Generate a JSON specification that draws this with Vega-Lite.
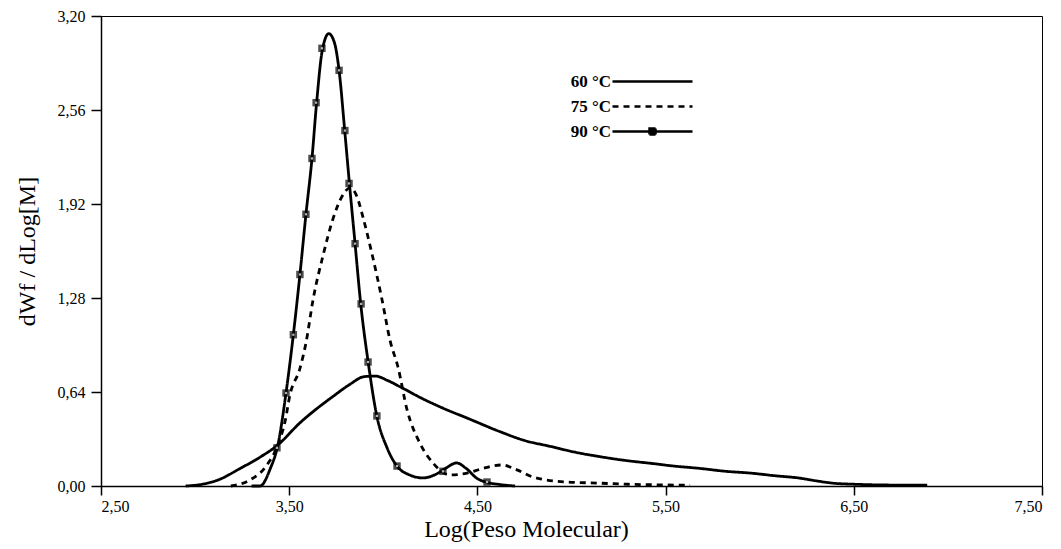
{
  "$schema": "https://vega.github.io/schema/vega-lite/v6.json",
  "width": 941,
  "height": 470,
  "autosize": {"type": "none"},
  "padding": {"left": 101, "top": 16, "right": 19, "bottom": 63},
  "background": "white",
  "config": {
    "view": {"stroke": "black", "strokeWidth": 1},
    "font": "Liberation Serif",
    "axis": {
      "grid": false,
      "domainColor": "black",
      "domainWidth": 1.5,
      "tickColor": "black",
      "tickWidth": 1.5,
      "labelColor": "black",
      "titleColor": "black",
      "labelFont": "Liberation Serif",
      "titleFont": "Liberation Serif",
      "labelFontSize": 16,
      "titleFontSize": 24,
      "titleFontWeight": "normal"
    }
  },
  "datasets": {
    "curves": [
      {"serie": "60 °C", "logM": 2.95, "dwf": 0.0},
      {"serie": "60 °C", "logM": 3.05, "dwf": 0.015},
      {"serie": "60 °C", "logM": 3.12, "dwf": 0.04},
      {"serie": "60 °C", "logM": 3.24, "dwf": 0.12},
      {"serie": "60 °C", "logM": 3.35, "dwf": 0.2},
      {"serie": "60 °C", "logM": 3.44, "dwf": 0.28},
      {"serie": "60 °C", "logM": 3.557, "dwf": 0.43},
      {"serie": "60 °C", "logM": 3.65, "dwf": 0.53},
      {"serie": "60 °C", "logM": 3.733, "dwf": 0.61},
      {"serie": "60 °C", "logM": 3.82, "dwf": 0.69},
      {"serie": "60 °C", "logM": 3.9, "dwf": 0.745},
      {"serie": "60 °C", "logM": 3.96, "dwf": 0.748},
      {"serie": "60 °C", "logM": 4.02, "dwf": 0.72},
      {"serie": "60 °C", "logM": 4.09, "dwf": 0.675},
      {"serie": "60 °C", "logM": 4.2, "dwf": 0.6},
      {"serie": "60 °C", "logM": 4.317, "dwf": 0.53},
      {"serie": "60 °C", "logM": 4.45, "dwf": 0.46},
      {"serie": "60 °C", "logM": 4.62, "dwf": 0.37},
      {"serie": "60 °C", "logM": 4.75, "dwf": 0.31},
      {"serie": "60 °C", "logM": 4.886, "dwf": 0.27},
      {"serie": "60 °C", "logM": 5.02, "dwf": 0.23},
      {"serie": "60 °C", "logM": 5.15, "dwf": 0.2},
      {"serie": "60 °C", "logM": 5.28, "dwf": 0.175},
      {"serie": "60 °C", "logM": 5.417, "dwf": 0.155},
      {"serie": "60 °C", "logM": 5.55, "dwf": 0.135},
      {"serie": "60 °C", "logM": 5.68, "dwf": 0.12},
      {"serie": "60 °C", "logM": 5.82, "dwf": 0.1},
      {"serie": "60 °C", "logM": 5.95, "dwf": 0.088},
      {"serie": "60 °C", "logM": 6.08, "dwf": 0.07},
      {"serie": "60 °C", "logM": 6.21, "dwf": 0.054},
      {"serie": "60 °C", "logM": 6.3, "dwf": 0.035},
      {"serie": "60 °C", "logM": 6.4, "dwf": 0.018},
      {"serie": "60 °C", "logM": 6.5, "dwf": 0.012},
      {"serie": "60 °C", "logM": 6.66, "dwf": 0.007},
      {"serie": "60 °C", "logM": 6.89, "dwf": 0.005},

      {"serie": "75 °C", "logM": 3.19, "dwf": 0.0},
      {"serie": "75 °C", "logM": 3.29, "dwf": 0.04},
      {"serie": "75 °C", "logM": 3.38, "dwf": 0.14},
      {"serie": "75 °C", "logM": 3.44, "dwf": 0.28},
      {"serie": "75 °C", "logM": 3.478, "dwf": 0.44},
      {"serie": "75 °C", "logM": 3.504, "dwf": 0.62},
      {"serie": "75 °C", "logM": 3.557, "dwf": 0.8},
      {"serie": "75 °C", "logM": 3.59, "dwf": 0.98},
      {"serie": "75 °C", "logM": 3.627, "dwf": 1.27},
      {"serie": "75 °C", "logM": 3.68, "dwf": 1.57},
      {"serie": "75 °C", "logM": 3.733, "dwf": 1.82},
      {"serie": "75 °C", "logM": 3.78, "dwf": 1.97},
      {"serie": "75 °C", "logM": 3.823, "dwf": 2.03},
      {"serie": "75 °C", "logM": 3.86, "dwf": 1.97},
      {"serie": "75 °C", "logM": 3.892, "dwf": 1.83},
      {"serie": "75 °C", "logM": 3.94, "dwf": 1.58},
      {"serie": "75 °C", "logM": 3.993, "dwf": 1.27},
      {"serie": "75 °C", "logM": 4.036, "dwf": 0.99},
      {"serie": "75 °C", "logM": 4.078, "dwf": 0.81},
      {"serie": "75 °C", "logM": 4.126, "dwf": 0.52},
      {"serie": "75 °C", "logM": 4.195, "dwf": 0.29},
      {"serie": "75 °C", "logM": 4.264, "dwf": 0.157},
      {"serie": "75 °C", "logM": 4.354, "dwf": 0.075},
      {"serie": "75 °C", "logM": 4.445, "dwf": 0.088},
      {"serie": "75 °C", "logM": 4.53, "dwf": 0.12},
      {"serie": "75 °C", "logM": 4.63, "dwf": 0.143},
      {"serie": "75 °C", "logM": 4.71, "dwf": 0.11},
      {"serie": "75 °C", "logM": 4.795, "dwf": 0.061},
      {"serie": "75 °C", "logM": 4.976, "dwf": 0.027},
      {"serie": "75 °C", "logM": 5.135, "dwf": 0.02},
      {"serie": "75 °C", "logM": 5.3, "dwf": 0.012},
      {"serie": "75 °C", "logM": 5.45, "dwf": 0.008},
      {"serie": "75 °C", "logM": 5.63, "dwf": 0.005},

      {"serie": "90 °C", "logM": 3.3, "dwf": 0.0},
      {"serie": "90 °C", "logM": 3.345, "dwf": 0.0},
      {"serie": "90 °C", "logM": 3.4, "dwf": 0.12},
      {"serie": "90 °C", "logM": 3.44, "dwf": 0.28},
      {"serie": "90 °C", "logM": 3.483, "dwf": 0.633},
      {"serie": "90 °C", "logM": 3.522, "dwf": 1.03},
      {"serie": "90 °C", "logM": 3.557, "dwf": 1.44},
      {"serie": "90 °C", "logM": 3.589, "dwf": 1.85},
      {"serie": "90 °C", "logM": 3.621, "dwf": 2.23},
      {"serie": "90 °C", "logM": 3.645, "dwf": 2.6},
      {"serie": "90 °C", "logM": 3.675, "dwf": 2.96},
      {"serie": "90 °C", "logM": 3.71, "dwf": 3.08},
      {"serie": "90 °C", "logM": 3.74, "dwf": 3.02},
      {"serie": "90 °C", "logM": 3.765, "dwf": 2.83},
      {"serie": "90 °C", "logM": 3.795, "dwf": 2.42},
      {"serie": "90 °C", "logM": 3.82, "dwf": 2.06},
      {"serie": "90 °C", "logM": 3.85, "dwf": 1.65},
      {"serie": "90 °C", "logM": 3.88, "dwf": 1.24},
      {"serie": "90 °C", "logM": 3.92, "dwf": 0.84},
      {"serie": "90 °C", "logM": 3.965, "dwf": 0.48},
      {"serie": "90 °C", "logM": 4.02, "dwf": 0.26},
      {"serie": "90 °C", "logM": 4.07, "dwf": 0.14},
      {"serie": "90 °C", "logM": 4.14, "dwf": 0.075},
      {"serie": "90 °C", "logM": 4.21, "dwf": 0.055},
      {"serie": "90 °C", "logM": 4.28, "dwf": 0.08},
      {"serie": "90 °C", "logM": 4.33, "dwf": 0.12},
      {"serie": "90 °C", "logM": 4.39, "dwf": 0.157},
      {"serie": "90 °C", "logM": 4.44, "dwf": 0.12},
      {"serie": "90 °C", "logM": 4.5, "dwf": 0.05},
      {"serie": "90 °C", "logM": 4.55, "dwf": 0.025},
      {"serie": "90 °C", "logM": 4.62, "dwf": 0.01},
      {"serie": "90 °C", "logM": 4.7, "dwf": 0.0}
    ],
    "markers": [
      {"logM": 3.435, "dwf": 0.26},
      {"logM": 3.483, "dwf": 0.633},
      {"logM": 3.522, "dwf": 1.03},
      {"logM": 3.557, "dwf": 1.44},
      {"logM": 3.589, "dwf": 1.85},
      {"logM": 3.621, "dwf": 2.23},
      {"logM": 3.643, "dwf": 2.61},
      {"logM": 3.674, "dwf": 2.98},
      {"logM": 3.765, "dwf": 2.83},
      {"logM": 3.796, "dwf": 2.42},
      {"logM": 3.818, "dwf": 2.06},
      {"logM": 3.85, "dwf": 1.65},
      {"logM": 3.882, "dwf": 1.24},
      {"logM": 3.919, "dwf": 0.844},
      {"logM": 3.966, "dwf": 0.477},
      {"logM": 4.073, "dwf": 0.136},
      {"logM": 4.317, "dwf": 0.1},
      {"logM": 4.551, "dwf": 0.027}
    ]
  },
  "layer": [
    {
      "data": {"name": "curves"},
      "mark": {"type": "line", "color": "black", "strokeWidth": 2.8, "interpolate": "monotone"},
      "encoding": {
        "x": {
          "field": "logM", "type": "quantitative",
          "scale": {"domain": [2.5, 7.5], "nice": false, "zero": false},
          "axis": {
            "values": [2.5, 3.5, 4.5, 5.5, 6.5, 7.5],
            "labelExpr": "replace(format(datum.value, '.2f'), '.', ',')",
            "title": "Log(Peso Molecular)",
            "titleFont": "Liberation Serif",
            "labelFont": "Liberation Serif",
            "titleX": 425,
            "titleAnchor": "start",
            "titleAlign": "center",
            "tickSize": 9,
            "labelPadding": 3,
            "titlePadding": 3
          }
        },
        "y": {
          "field": "dwf", "type": "quantitative",
          "scale": {"domain": [0, 3.2], "nice": false},
          "axis": {
            "values": [0, 0.64, 1.28, 1.92, 2.56, 3.2],
            "labelExpr": "replace(format(datum.value, '.2f'), '.', ',')",
            "title": "dWf / dLog[M]",
            "titleFont": "Liberation Serif",
            "labelFont": "Liberation Serif",
            "tickSize": 10,
            "labelPadding": 6,
            "titlePadding": 18
          }
        },
        "strokeDash": {
          "field": "serie", "type": "nominal",
          "scale": {"domain": ["60 °C", "75 °C", "90 °C"], "range": [[1, 0], [6, 5], [1, 0]]},
          "legend": {
            "title": null,
            "orient": "none",
            "legendX": 540,
            "legendY": 54,
            "padding": 0,
            "rowPadding": 5,
            "symbolSize": 400,
            "symbolStrokeWidth": 2.5,
            "symbolStrokeColor": "black",
            "labelFont": "Liberation Serif",
            "labelFontWeight": "bold",
            "labelFontSize": 17,
            "labelColor": "black",
            "labelAlign": "right",
            "labelOffset": -53,
            "encode": {
              "symbols": {
                "update": {
                  "shape": {"signal": "datum.value === '90 °C' ? 'M-4,0H4M-0.3,-0.3H0.3V0.3H-0.3Z' : 'M-4,0H4'"},
                  "fill": {"value": "black"},
                  "stroke": {"value": "black"}
                }
              }
            }
          }
        }
      }
    },
    {
      "data": {"name": "markers"},
      "mark": {"type": "point", "shape": "square", "filled": true, "color": "black", "size": 55},
      "encoding": {
        "x": {"field": "logM", "type": "quantitative"},
        "y": {"field": "dwf", "type": "quantitative"}
      }
    },
    {
      "data": {"name": "markers"},
      "mark": {"type": "point", "shape": "square", "filled": true, "color": "white", "size": 5},
      "encoding": {
        "x": {"field": "logM", "type": "quantitative"},
        "y": {"field": "dwf", "type": "quantitative"}
      }
    }
  ]
}
